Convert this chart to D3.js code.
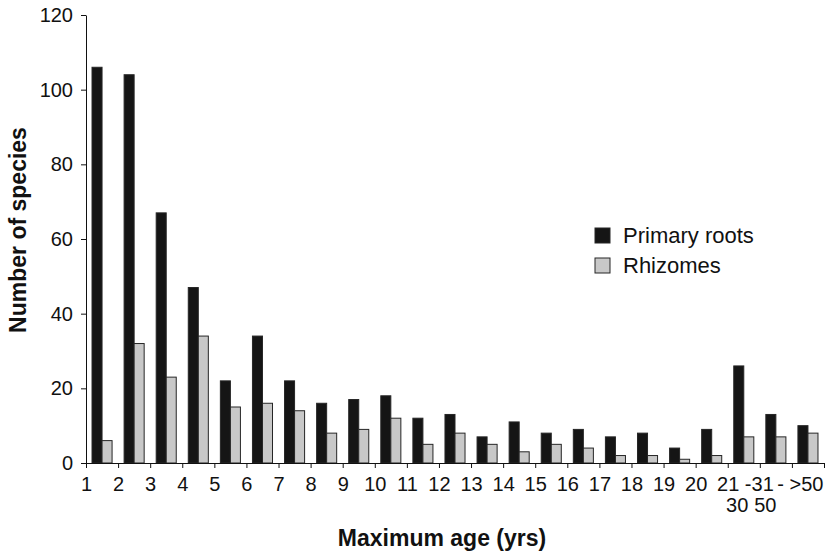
<!DOCTYPE html>
<html>
<head>
<meta charset="utf-8">
<script src="https://cdn.jsdelivr.net/npm/d3@7"></script>
<style>
  body { margin: 0; background: #fff; }
  svg { display: block; font-family: "Liberation Sans", Arial, sans-serif; }
</style>
</head>
<body>
<svg id="chart"></svg>
<script>
const categories = ['1','2','3','4','5','6','7','8','9','10','11','12','13','14','15','16','17','18','19','20','21-30','31-50','>50']
const tickLine1 = ['1','2','3','4','5','6','7','8','9','10','11','12','13','14','15','16','17','18','19','20','21','-31','- >50','']
const tickLine2 = ['','','','','','','','','','','','','','','','','','','','','30','50','','']
const primaryRoots = [106, 104, 67, 47, 22, 34, 22, 16, 17, 18, 12, 13, 7, 11, 8, 9, 7, 8, 4, 9, 26, 13, 10]
const rhizomes = [6, 32, 23, 34, 15, 16, 14, 8, 9, 12, 5, 8, 5, 3, 5, 4, 2, 2, 1, 2, 7, 7, 8]
const seriesNames = ['Primary roots', 'Rhizomes']
const yTicks = [0, 20, 40, 60, 80, 100, 120]

const svgWidth = 826
const svgHeight = 554
const plotLeft = 86
const plotRight = 824
const plotTop = 15
const plotBottom = 463

const colors = {
  'Primary roots': '#151515',
  'Rhizomes': '#c8c8c8'
}

const svg = d3.select('#chart')
  .attr('width', svgWidth)
  .attr('height', svgHeight)

const x = d3.scaleBand()
  .domain(categories)
  .range([plotLeft, plotRight])
  .paddingInner(0.375)
  .paddingOuter(0.1875)

const xSub = d3.scaleBand()
  .domain(seriesNames)
  .range([0, x.bandwidth()])

const xTick = d3.scaleLinear()
  .domain([0, categories.length])
  .range([plotLeft, plotRight])

const y = d3.scaleLinear()
  .domain([0, 120])
  .range([plotBottom, plotTop])

const rows = categories.map((c, i) => ({
  cat: c,
  values: [
    { name: 'Primary roots', value: primaryRoots[i] },
    { name: 'Rhizomes', value: rhizomes[i] }
  ]
}))

// bars
svg.append('g')
  .selectAll('g')
  .data(rows)
  .join('g')
  .attr('transform', d => `translate(${x(d.cat)},0)`)
  .selectAll('rect')
  .data(d => d.values)
  .join('rect')
    .attr('x', d => xSub(d.name))
    .attr('y', d => y(d.value))
    .attr('width', xSub.bandwidth())
    .attr('height', d => y(0) - y(d.value))
    .attr('fill', d => colors[d.name])
    .attr('stroke', '#262626')
    .attr('stroke-width', 1)

// y axis
const yAxis = svg.append('g')
  .attr('transform', `translate(${plotLeft},0)`)
  .call(d3.axisLeft(y).tickValues(yTicks).tickSize(5).tickPadding(8).tickSizeOuter(0))
yAxis.select('.domain').attr('stroke', '#111')
yAxis.selectAll('.tick line').attr('stroke', '#111')
yAxis.selectAll('.tick text')
  .attr('font-size', 20)
  .attr('fill', '#111')
  .attr('font-family', '"Liberation Sans", Arial, sans-serif')

// x axis (labels sit on the band edges, like the original)
const lastCat = categories.length - 1
const xAxis = svg.append('g')
  .attr('transform', `translate(0,${plotBottom})`)
  .call(d3.axisBottom(xTick)
    .tickValues(d3.range(categories.length + 1))
    .tickFormat(i => tickLine1[i])
    .tickSize(5)
    .tickPadding(9)
    .tickSizeOuter(0))
xAxis.select('.domain').attr('stroke', '#111')
xAxis.selectAll('.tick line').attr('stroke', '#111')
xAxis.selectAll('.tick text')
  .attr('font-size', 20)
  .attr('fill', '#111')
  .attr('font-family', '"Liberation Sans", Arial, sans-serif')
  .attr('dx', i => i === lastCat ? 8 : (i === lastCat - 1 ? -1 : 0))

xAxis.selectAll('.tick')
  .append('text')
  .text(i => tickLine2[i])
  .attr('x', i => i === lastCat - 1 ? 5 : 9)
  .attr('y', 49)
  .attr('fill', '#111')
  .attr('font-size', 20)
  .attr('text-anchor', 'middle')
  .attr('font-family', '"Liberation Sans", Arial, sans-serif')

// axis titles
svg.append('text')
  .text('Maximum age (yrs)')
  .attr('x', 442)
  .attr('y', 546)
  .attr('text-anchor', 'middle')
  .attr('font-size', 23)
  .attr('font-weight', 'bold')
  .attr('fill', '#111')

svg.append('text')
  .text('Number of species')
  .attr('transform', 'translate(26,230) rotate(-90)')
  .attr('text-anchor', 'middle')
  .attr('font-size', 23)
  .attr('font-weight', 'bold')
  .attr('fill', '#111')

// legend
const legend = svg.append('g')
  .attr('transform', 'translate(595,228)')
  .selectAll('g')
  .data(seriesNames)
  .join('g')
  .attr('transform', (_, i) => `translate(0,${i * 30})`)

legend.append('rect')
  .attr('width', 15)
  .attr('height', 15)
  .attr('fill', d => colors[d])
  .attr('stroke', '#262626')

legend.append('text')
  .text(d => d)
  .attr('x', 28)
  .attr('y', 15)
  .attr('font-size', 22)
  .attr('fill', '#111')
</script>
</body>
</html>
